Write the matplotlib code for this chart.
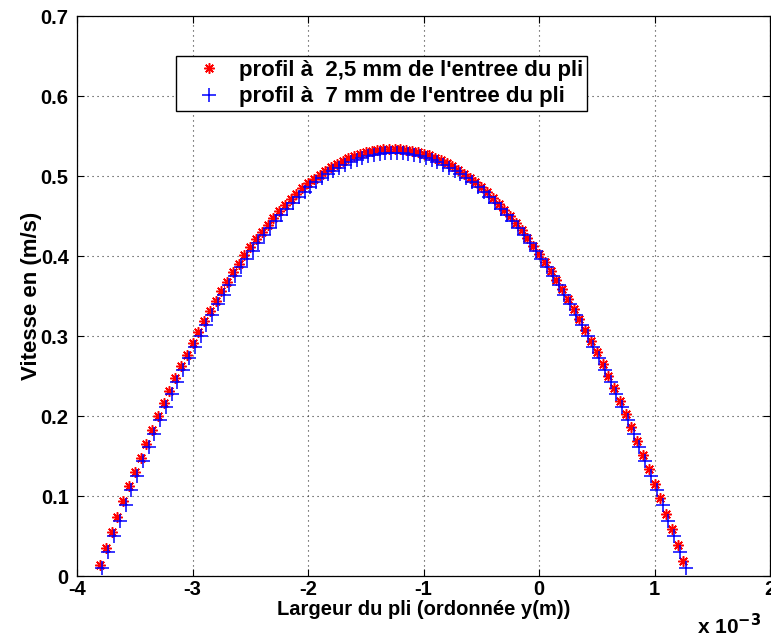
#!/usr/bin/python
# -*- coding: utf-8 -*-
import matplotlib
matplotlib.use('Agg')
import matplotlib.pyplot as plt

plt.rcParams['font.family'] = ['Liberation Sans', 'DejaVu Sans']
plt.rcParams['font.weight'] = 'bold'

# x in units of 1e-3 m (axis shows "x 10^-3")
x_25mm = [-3.80, -3.75, -3.70, -3.65, -3.60, -3.55, -3.50, -3.45, -3.40, -3.35,
          -3.30, -3.25, -3.20, -3.15, -3.10, -3.05, -3.00, -2.95, -2.90, -2.85,
          -2.80, -2.75, -2.70, -2.65, -2.60, -2.55, -2.50, -2.45, -2.40, -2.35,
          -2.30, -2.25, -2.20, -2.15, -2.10, -2.05, -2.00, -1.95, -1.90, -1.85,
          -1.80, -1.75, -1.70, -1.65, -1.60, -1.55, -1.50, -1.45, -1.40, -1.35,
          -1.30, -1.25, -1.20, -1.15, -1.10, -1.05, -1.00, -0.95, -0.90, -0.85,
          -0.80, -0.75, -0.70, -0.65, -0.60, -0.55, -0.50, -0.45, -0.40, -0.35,
          -0.30, -0.25, -0.20, -0.15, -0.10, -0.05, 0.00, 0.05, 0.10, 0.15,
          0.20, 0.25, 0.30, 0.35, 0.40, 0.45, 0.50, 0.55, 0.60, 0.65,
          0.70, 0.75, 0.80, 0.85, 0.90, 0.95, 1.00, 1.05, 1.10, 1.15,
          1.20, 1.25]
v_25mm = [0.0142, 0.0346, 0.0545, 0.0740, 0.0932, 0.1119, 0.1302, 0.1481, 0.1656, 0.1827,
          0.1994, 0.2157, 0.2315, 0.2470, 0.2621, 0.2767, 0.2910, 0.3048, 0.3183, 0.3313,
          0.3439, 0.3561, 0.3680, 0.3794, 0.3904, 0.4010, 0.4112, 0.4209, 0.4303, 0.4393,
          0.4479, 0.4560, 0.4638, 0.4711, 0.4781, 0.4846, 0.4907, 0.4965, 0.5018, 0.5067,
          0.5112, 0.5153, 0.5190, 0.5223, 0.5252, 0.5276, 0.5297, 0.5314, 0.5326, 0.5335,
          0.5339, 0.5340, 0.5336, 0.5328, 0.5317, 0.5301, 0.5281, 0.5257, 0.5229, 0.5197,
          0.5161, 0.5120, 0.5076, 0.5028, 0.4975, 0.4919, 0.4859, 0.4794, 0.4725, 0.4653,
          0.4576, 0.4495, 0.4410, 0.4321, 0.4228, 0.4131, 0.4030, 0.3925, 0.3816, 0.3703,
          0.3585, 0.3464, 0.3338, 0.3209, 0.3075, 0.2938, 0.2796, 0.2650, 0.2501, 0.2347,
          0.2189, 0.2027, 0.1861, 0.1691, 0.1516, 0.1338, 0.1156, 0.0969, 0.0779, 0.0585,
          0.0386, 0.0183]

x_7mm = [-3.78, -3.73, -3.68, -3.63, -3.58, -3.53, -3.48, -3.43, -3.38, -3.33,
         -3.28, -3.23, -3.18, -3.13, -3.08, -3.03, -2.98, -2.93, -2.88, -2.83,
         -2.78, -2.73, -2.68, -2.63, -2.58, -2.53, -2.48, -2.43, -2.38, -2.33,
         -2.28, -2.23, -2.18, -2.13, -2.08, -2.03, -1.98, -1.93, -1.88, -1.83,
         -1.78, -1.73, -1.68, -1.63, -1.58, -1.53, -1.48, -1.43, -1.38, -1.33,
         -1.28, -1.23, -1.18, -1.13, -1.08, -1.03, -0.98, -0.93, -0.88, -0.83,
         -0.78, -0.73, -0.68, -0.63, -0.58, -0.53, -0.48, -0.43, -0.38, -0.33,
         -0.28, -0.23, -0.18, -0.13, -0.08, -0.03, 0.02, 0.07, 0.12, 0.17,
         0.22, 0.27, 0.32, 0.37, 0.42, 0.47, 0.52, 0.57, 0.62, 0.67,
         0.72, 0.77, 0.82, 0.87, 0.92, 0.97, 1.02, 1.07, 1.12, 1.17,
         1.22, 1.27]
v_7mm = [0.0094, 0.0298, 0.0497, 0.0693, 0.0884, 0.1072, 0.1255, 0.1435, 0.1610, 0.1781,
         0.1948, 0.2111, 0.2270, 0.2425, 0.2576, 0.2722, 0.2865, 0.3003, 0.3138, 0.3268,
         0.3395, 0.3517, 0.3635, 0.3749, 0.3859, 0.3965, 0.4067, 0.4165, 0.4259, 0.4348,
         0.4434, 0.4515, 0.4593, 0.4666, 0.4735, 0.4801, 0.4862, 0.4919, 0.4972, 0.5021,
         0.5065, 0.5106, 0.5143, 0.5175, 0.5204, 0.5228, 0.5249, 0.5265, 0.5277, 0.5285,
         0.5289, 0.5289, 0.5285, 0.5277, 0.5265, 0.5249, 0.5228, 0.5204, 0.5175, 0.5143,
         0.5106, 0.5065, 0.5021, 0.4972, 0.4919, 0.4862, 0.4801, 0.4735, 0.4666, 0.4593,
         0.4515, 0.4434, 0.4348, 0.4259, 0.4165, 0.4067, 0.3965, 0.3859, 0.3749, 0.3635,
         0.3517, 0.3395, 0.3268, 0.3138, 0.3003, 0.2865, 0.2722, 0.2576, 0.2425, 0.2270,
         0.2111, 0.1948, 0.1781, 0.1610, 0.1435, 0.1255, 0.1072, 0.0884, 0.0693, 0.0497,
         0.0298, 0.0094]

labelList = [u"profil à  2,5 mm de l'entree du pli", u"profil à  7 mm de l'entree du pli"]
xTicks = [-4, -3, -2, -1, 0, 1, 2]
yTicks = [0, 0.1, 0.2, 0.3, 0.4, 0.5, 0.6, 0.7]


def main():
    fig = plt.figure(figsize=(7.71, 6.40), dpi=100)
    ax = fig.add_axes([77 / 771., 64 / 640., 693 / 771., 560 / 640.])

    ax.plot(x_25mm, v_25mm, linestyle='none', marker=(8, 2, 0), color='r',
            markersize=7.5, markeredgewidth=1.1, label=labelList[0])
    ax.plot(x_7mm, v_7mm, linestyle='none', marker='+', color='b',
            markersize=9.5, markeredgewidth=1.1, label=labelList[1])

    ax.set_xlim(-4, 2)
    ax.set_ylim(0, 0.7)
    ax.set_xticks(xTicks)
    ax.set_yticks(yTicks)
    ax.set_xticklabels([str(t) for t in xTicks])
    ax.set_yticklabels(['0'] + ['%.1f' % t for t in yTicks[1:]])
    ax.tick_params(direction='in', length=5, width=0.8, labelsize=14.5, pad=6,
                   top=True, right=True)
    ax.tick_params(axis='x', pad=3)
    ax.grid(True, color='#333333', linestyle=(0, (1, 3.5)), linewidth=0.8)
    for s in ax.spines.values():
        s.set_linewidth(0.9)

    ax.set_xlabel(u"Largeur du pli (ordonnée y(m))", fontsize=14.5, fontweight='bold')
    ax.xaxis.set_label_coords(0.5, -0.043)
    ax.set_ylabel(u"Vitesse en (m/s)", fontsize=16, fontweight='bold')
    ax.yaxis.set_label_coords(-0.05, 0.5)
    ax.text(0.987, -0.066, u"x 10$^{\\mathbf{-3}}$", transform=ax.transAxes,
            ha='right', va='top', fontsize=15, fontweight='bold')

    leg = ax.legend(loc='upper left', bbox_to_anchor=(0.143, 0.929), borderaxespad=0,
                    fancybox=False, edgecolor='k', framealpha=1, fontsize=16,
                    handlelength=2.6, handletextpad=0.05, borderpad=0.18, labelspacing=0.25)
    leg.get_frame().set_linewidth(1.0)
    for t in leg.get_texts():
        t.set_fontweight('bold')

    fig.savefig('out.png', dpi=100)


if __name__ == '__main__':
    main()
